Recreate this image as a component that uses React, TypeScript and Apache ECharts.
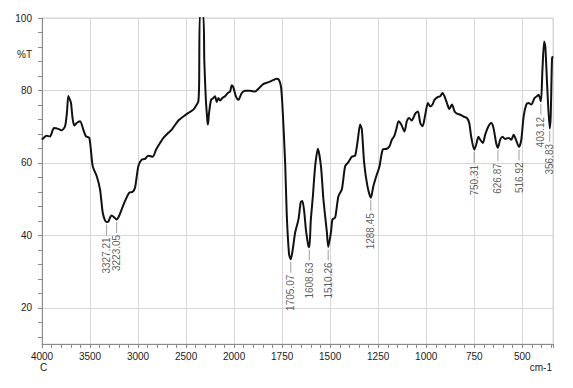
import React, { useEffect, useRef } from "react";
import * as echarts from "echarts";

// Spectrum (wavenumber in cm-1, %T)
const wavenumber = [
  4000, 3951, 3917, 3875, 3830, 3795, 3760, 3740, 3726, 3710, 3698, 3680, 3663, 3639, 3604, 3570, 3542, 3507,
  3472, 3430, 3396, 3368, 3345, 3327, 3309, 3290, 3274, 3250, 3223, 3200, 3170, 3135, 3091, 3056, 3031, 2997,
  2962, 2927, 2893, 2847, 2812, 2771, 2736, 2685, 2649, 2580, 2528, 2476, 2424, 2389, 2372, 2364, 2356, 2322,
  2310, 2295, 2278, 2272, 2262, 2240, 2216, 2198, 2181, 2163, 2146, 2122, 2094, 2066, 2042, 2024, 2007, 1991,
  1978, 1960, 1943, 1917, 1891, 1873, 1847, 1821, 1795, 1778, 1766, 1755, 1746, 1734, 1726, 1714, 1705, 1695,
  1682, 1665, 1653, 1645, 1636, 1625, 1613, 1608, 1601, 1590, 1578, 1564, 1548, 1535, 1517, 1510, 1496, 1488,
  1474, 1457, 1439, 1422, 1405, 1387, 1370, 1356, 1344, 1335, 1323, 1306, 1288, 1275, 1260, 1243, 1226, 1205,
  1191, 1179, 1167, 1156, 1144, 1130, 1113, 1101, 1089, 1075, 1057, 1043, 1031, 1019, 1005, 991, 979, 967, 957,
  939, 927, 915, 905, 892, 880, 866, 852, 840, 823, 806, 788, 776, 766, 750, 741, 728, 719, 705, 693, 676, 662,
  650, 636, 627, 615, 603, 589, 571, 557, 545, 533, 517, 505, 493, 479, 467, 453, 436, 424, 415, 403, 395, 386,
  380, 370, 357, 352, 345, 340,
];
const transmittance = [
  66.4, 67.5, 67.3, 69.6, 69.4, 69.0, 70.1, 74.0, 78.5, 77.5, 76.5, 72.0, 70.3, 71.0, 71.5, 69.2, 67.3, 66.9,
  59.1, 56.3, 52.7, 46.3, 44.2, 43.7, 43.8, 45.0, 45.5, 45.0, 44.4, 45.2, 47.2, 49.5, 51.8, 52.0, 53.2, 59.1,
  60.9, 61.1, 62.0, 61.7, 63.7, 65.5, 66.9, 68.3, 69.2, 71.7, 72.8, 73.8, 74.7, 76.1, 77.0, 82.0, 101, 101,
  88.0, 78.0, 71.5, 70.6, 73.5, 77.4, 77.9, 78.4, 76.8, 77.9, 77.2, 77.9, 78.4, 79.3, 79.7, 81.4, 80.8, 78.4,
  77.4, 79.3, 79.9, 79.9, 79.7, 80.5, 81.8, 82.3, 82.9, 83.2, 82.9, 80.7, 73.3, 59.6, 45.8, 34.8, 33.4, 36.0,
  40.8, 44.4, 49.2, 49.5, 47.0, 41.0, 37.0, 36.8, 44.0, 50.8, 59.1, 63.9, 59.1, 49.9, 40.8, 36.8, 40.8, 44.4,
  44.9, 50.8, 52.7, 59.1, 60.2, 61.7, 62.0, 66.4, 70.6, 69.2, 60.0, 53.6, 50.4, 53.6, 56.3, 59.1, 63.7, 63.9,
  64.6, 66.4, 67.3, 69.2, 71.5, 70.6, 68.7, 71.5, 72.4, 71.7, 73.6, 74.2, 71.0, 70.1, 73.3, 76.5, 75.6, 76.1, 77.4,
  78.2, 78.4, 79.3, 78.4, 76.5, 74.9, 76.1, 74.2, 73.6, 73.3, 72.8, 72.4, 71.0, 67.3, 63.7, 64.8, 67.2, 66.4, 65.5, 67.8, 70.1, 71.0,
  69.7, 65.5, 64.2, 66.4, 67.2, 66.6, 66.9, 66.4, 67.8, 66.4, 64.4, 66.4, 72.8, 76.1, 76.5, 76.1, 77.9, 78.4, 78.8, 77.0, 85.7, 93.5,
  92.1, 81.0, 69.5, 72.8, 88.9, 89.4,
];

// Labelled peaks
const peakWavenumber = [3327.21, 3223.05, 1705.07, 1608.63, 1510.26, 1288.45, 750.31, 626.87, 516.92, 403.12, 356.83];
const peakTransmittance = [43.7, 44.4, 33.4, 36.8, 36.8, 50.4, 63.7, 64.2, 64.4, 77.0, 69.5];

// Axis ticks
const xTickLabels = [4000, 3500, 3000, 2500, 2000, 1750, 1500, 1250, 1000, 750, 500];
const yTickLabels = [20, 40, 60, 80, 100];
const yTickMarks = [12, 16, 20, 24, 28, 32, 36, 40, 44, 48, 52, 56, 60, 64, 68, 72, 76, 80, 84, 88, 92, 96, 100];
const yAxisTitle = "%T";
const yAxisTitleAt = 90;
const xStart = 4000;
const xEnd = 340;

// FTIR axis: half scale above 2000 cm-1, full scale below
const toAxis = (w: number) => (w >= 2000 ? (4000 - w) / 2 : 1000 + (2000 - w));
const fromAxis = (u: number) => (u <= 1000 ? 4000 - 2 * u : 3000 - u);

const FONT = "Liberation Sans, Arial, sans-serif";
const AXIS_GRAY = "#8a8a8a";
const GRID_GRAY = "#d6d6d6";

export default function App() {
  const ref = useRef<HTMLDivElement>(null);
  useEffect(() => {
    if (!ref.current) return;
    const chart = echarts.init(ref.current, undefined, { renderer: "svg" });
    const lineData = wavenumber.map((w, i) => [toAxis(w), transmittance[i]]);
    const peakData = peakWavenumber.map((w, i) => [toAxis(w), peakTransmittance[i], w.toFixed(2)]);
    const tickSet = xTickLabels.map((w) => toAxis(w));
    chart.setOption({
      animation: false,
      backgroundColor: "#ffffff",
      grid: { left: 42, right: 20, top: 18, bottom: 44, show: true, borderColor: GRID_GRAY, borderWidth: 1 },
      xAxis: {
        type: "value",
        min: toAxis(xStart),
        max: toAxis(xEnd),
        interval: 250,
        axisLine: { show: true, lineStyle: { color: AXIS_GRAY, width: 1 } },
        axisTick: { show: true, length: 4, lineStyle: { color: AXIS_GRAY } },
        minorTick: { show: true, splitNumber: 5, length: 4, lineStyle: { color: AXIS_GRAY } },
        splitLine: { show: true, lineStyle: { color: GRID_GRAY, width: 1 } },
        axisLabel: {
          margin: 7,
          fontSize: 10,
          color: "#222",
          fontFamily: FONT,
          formatter: (u: number) => (tickSet.some((t) => Math.abs(t - u) < 1e-6) ? String(fromAxis(u)) : ""),
        },
      },
      yAxis: [
        {
          type: "value",
          min: 10,
          max: 100,
          interval: 10,
          position: "left",
          axisLine: { show: true, lineStyle: { color: AXIS_GRAY, width: 1 } },
          axisTick: { show: false },
          splitLine: { show: true, lineStyle: { color: ["rgba(0,0,0,0)", GRID_GRAY], width: 1 } },
          axisLabel: {
            margin: 10,
            fontSize: 10,
            color: "#222",
            fontFamily: FONT,
            formatter: (v: number) =>
              yTickLabels.includes(v) ? String(v) : v === yAxisTitleAt ? yAxisTitle : "",
          },
        },
        {
          type: "value",
          min: 10,
          max: 100,
          position: "left",
          axisLine: { show: false },
          axisLabel: { show: false },
          splitLine: { show: false },
          axisTick: {
            show: true,
            length: 4,
            customValues: yTickMarks,
            lineStyle: { color: AXIS_GRAY },
          },
        },
      ],
      series: [
        {
          type: "line",
          data: lineData,
          showSymbol: false,
          symbol: "none",
          smooth: 0.25,
          clip: true,
          lineStyle: { color: "#111", width: 2 },
          z: 3,
        },
        {
          type: "scatter",
          data: peakData,
          symbol: "rect",
          symbolSize: [1, 11],
          symbolOffset: [0, 8],
          itemStyle: { color: "#888" },
          z: 4,
          label: {
            show: true,
            position: "bottom",
            distance: 2,
            rotate: 90,
            align: "right",
            verticalAlign: "middle",
            fontSize: 10,
            color: "#333",
            fontFamily: FONT,
            formatter: (p: any) => p.data[2],
          },
        },
      ],
      graphic: [
        { type: "text", left: 40, top: 362, style: { text: "C", fontSize: 10, fill: "#222", fontFamily: FONT } },
        { type: "text", right: 21, top: 362, style: { text: "cm-1", fontSize: 10, fill: "#222", fontFamily: FONT } },
      ],
    });
    return () => chart.dispose();
  }, []);
  return <div ref={ref} style={{ width: 573, height: 388, position: "absolute", left: 0, top: 0 }} />;
}
